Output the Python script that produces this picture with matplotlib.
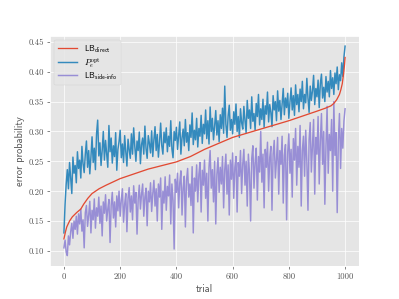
import matplotlib
matplotlib.use("Agg")
import matplotlib.pyplot as plt

plt.style.use("ggplot")
plt.rcParams["mathtext.fontset"] = "cm"

# ---- data ----
trial_lb = [0, 5, 10, 20, 30, 45, 60, 70, 85, 100, 125, 150, 200, 250, 300, 350,
            400, 450, 500, 550, 600, 650, 700, 750, 800, 850, 900, 930, 950, 960,
            970, 980, 985, 990, 995, 998, 1000]
lb_direct = [0.120, 0.131, 0.140, 0.150, 0.157, 0.164, 0.170, 0.178, 0.188, 0.196,
             0.204, 0.210, 0.221, 0.229, 0.237, 0.243, 0.249, 0.258, 0.270, 0.280,
             0.290, 0.297, 0.304, 0.311, 0.318, 0.326, 0.334, 0.339, 0.343, 0.347,
             0.353, 0.362, 0.370, 0.380, 0.398, 0.412, 0.424]

trial_noisy = list(range(0, 1001, 4))

pe_opt = [
    0.130, 0.178, 0.212, 0.236, 0.204, 0.248, 0.221, 0.196, 0.257, 0.230,
    0.243, 0.214, 0.266, 0.238, 0.252, 0.222, 0.275, 0.246, 0.231, 0.262,
    0.284, 0.240, 0.268, 0.229, 0.257, 0.291, 0.248, 0.272, 0.236, 0.296,
    0.319, 0.259, 0.281, 0.243, 0.268, 0.300, 0.252, 0.285, 0.262, 0.240,
    0.310, 0.266, 0.289, 0.247, 0.276, 0.258, 0.298, 0.235, 0.270, 0.283,
    0.302, 0.256, 0.279, 0.248, 0.293, 0.266, 0.242, 0.287, 0.270, 0.255,
    0.296, 0.262, 0.306, 0.275, 0.250, 0.284, 0.268, 0.299, 0.246, 0.278,
    0.289, 0.262, 0.309, 0.271, 0.255, 0.293, 0.280, 0.264, 0.301, 0.258,
    0.286, 0.308, 0.268, 0.295, 0.257, 0.282, 0.314, 0.276, 0.262, 0.299,
    0.281, 0.306, 0.266, 0.292, 0.275, 0.318, 0.271, 0.256, 0.300, 0.285,
    0.307, 0.270, 0.294, 0.316, 0.262, 0.289, 0.304, 0.276, 0.320, 0.282,
    0.298, 0.268, 0.311, 0.290, 0.331, 0.278, 0.302, 0.286, 0.322, 0.274,
    0.305, 0.292, 0.327, 0.280, 0.312, 0.296, 0.336, 0.288, 0.318, 0.279,
    0.341, 0.300, 0.322, 0.286, 0.309, 0.335, 0.294, 0.318, 0.283, 0.328,
    0.305, 0.339, 0.297, 0.376, 0.312, 0.290, 0.326, 0.344, 0.302, 0.320,
    0.296, 0.333, 0.312, 0.346, 0.300, 0.325, 0.290, 0.338, 0.315, 0.304,
    0.342, 0.318, 0.298, 0.352, 0.322, 0.336, 0.305, 0.358, 0.317, 0.330,
    0.302, 0.347, 0.325, 0.362, 0.311, 0.338, 0.320, 0.354, 0.307, 0.343,
    0.329, 0.366, 0.316, 0.345, 0.332, 0.308, 0.360, 0.336, 0.350, 0.318,
    0.368, 0.334, 0.352, 0.320, 0.345, 0.372, 0.328, 0.356, 0.340, 0.364,
    0.322, 0.350, 0.373, 0.336, 0.360, 0.327, 0.378, 0.345, 0.362, 0.333,
    0.371, 0.350, 0.384, 0.338, 0.362, 0.348, 0.389, 0.356, 0.332, 0.376,
    0.352, 0.368, 0.394, 0.345, 0.372, 0.358, 0.386, 0.340, 0.380, 0.396,
    0.356, 0.374, 0.350, 0.392, 0.366, 0.384, 0.358, 0.402, 0.372, 0.390,
    0.362, 0.398, 0.380, 0.408, 0.370, 0.395, 0.385, 0.415, 0.392, 0.425,
    0.443]

lb_side_info = [
    0.105, 0.118, 0.098, 0.092, 0.125, 0.110, 0.132, 0.146, 0.121, 0.150,
    0.136, 0.158, 0.128, 0.162, 0.145, 0.170, 0.133, 0.152, 0.105, 0.164,
    0.176, 0.141, 0.160, 0.183, 0.130, 0.168, 0.152, 0.187, 0.138, 0.172,
    0.158, 0.190, 0.146, 0.175, 0.125, 0.182, 0.163, 0.194, 0.150, 0.170,
    0.186, 0.114, 0.176, 0.198, 0.155, 0.182, 0.140, 0.192, 0.167, 0.200,
    0.158, 0.185, 0.204, 0.148, 0.178, 0.196, 0.132, 0.188, 0.206, 0.165,
    0.192, 0.152, 0.209, 0.180, 0.198, 0.128, 0.186, 0.210, 0.170, 0.195,
    0.212, 0.158, 0.190, 0.205, 0.142, 0.200, 0.182, 0.214, 0.166, 0.196,
    0.218, 0.175, 0.204, 0.150, 0.212, 0.190, 0.222, 0.136, 0.200, 0.180,
    0.224, 0.168, 0.208, 0.192, 0.227, 0.145, 0.212, 0.185, 0.103, 0.220,
    0.198, 0.230, 0.172, 0.214, 0.234, 0.160, 0.206, 0.225, 0.140, 0.218,
    0.238, 0.190, 0.212, 0.176, 0.241, 0.130, 0.222, 0.200, 0.244, 0.182,
    0.228, 0.248, 0.165, 0.235, 0.210, 0.252, 0.188, 0.230, 0.150, 0.240,
    0.268, 0.205, 0.236, 0.182, 0.250, 0.145, 0.228, 0.256, 0.198, 0.240,
    0.212, 0.258, 0.172, 0.236, 0.262, 0.195, 0.244, 0.160, 0.252, 0.220,
    0.264, 0.188, 0.240, 0.258, 0.165, 0.248, 0.225, 0.268, 0.196, 0.245,
    0.270, 0.210, 0.250, 0.175, 0.262, 0.230, 0.150, 0.255, 0.276, 0.205,
    0.248, 0.272, 0.185, 0.258, 0.232, 0.300, 0.215, 0.262, 0.172, 0.270,
    0.240, 0.282, 0.200, 0.256, 0.275, 0.168, 0.262, 0.285, 0.222, 0.252,
    0.290, 0.195, 0.268, 0.245, 0.292, 0.180, 0.260, 0.278, 0.152, 0.265,
    0.296, 0.230, 0.270, 0.190, 0.288, 0.252, 0.305, 0.210, 0.275, 0.240,
    0.310, 0.175, 0.268, 0.292, 0.225, 0.302, 0.250, 0.168, 0.286, 0.315,
    0.232, 0.278, 0.320, 0.195, 0.290, 0.262, 0.325, 0.212, 0.284, 0.330,
    0.245, 0.300, 0.178, 0.275, 0.342, 0.230, 0.295, 0.268, 0.320, 0.200,
    0.350, 0.260, 0.298, 0.164, 0.285, 0.330, 0.238, 0.305, 0.272, 0.318,
    0.338]

labels = [r"$\mathsf{LB}_{\mathsf{direct}}$",
          r"$P_e^{\mathrm{opt}}$",
          r"$\mathsf{LB}_{\mathsf{side\text{-}info}}$"]
xticks = [0, 200, 400, 600, 800, 1000]
yticks = [0.10, 0.15, 0.20, 0.25, 0.30, 0.35, 0.40, 0.45]

fig, ax = plt.subplots(figsize=(6.4, 4.8), dpi=62.35)
ax.plot(trial_lb, lb_direct, color="#E24A33", lw=1.5, label=labels[0], zorder=4)
ax.plot(trial_noisy, pe_opt, color="#348ABD", lw=1.7, label=labels[1], zorder=3)
ax.plot(trial_noisy, lb_side_info, color="#988ED5", lw=1.7, label=labels[2], zorder=2)

ax.set_xlabel("trial", fontfamily="cmss10")
ax.set_ylabel("error probability", fontfamily="cmss10")
ax.set_xticks(xticks)
ax.set_yticks(yticks)
ax.set_yticklabels([f"{v:.2f}" for v in yticks], fontfamily="cmr10")
ax.set_xticklabels([str(v) for v in xticks], fontfamily="cmr10")
ax.legend(loc="upper left", labelspacing=0.1, handlelength=2.2)

fig.savefig("out.png", dpi=62.35)
